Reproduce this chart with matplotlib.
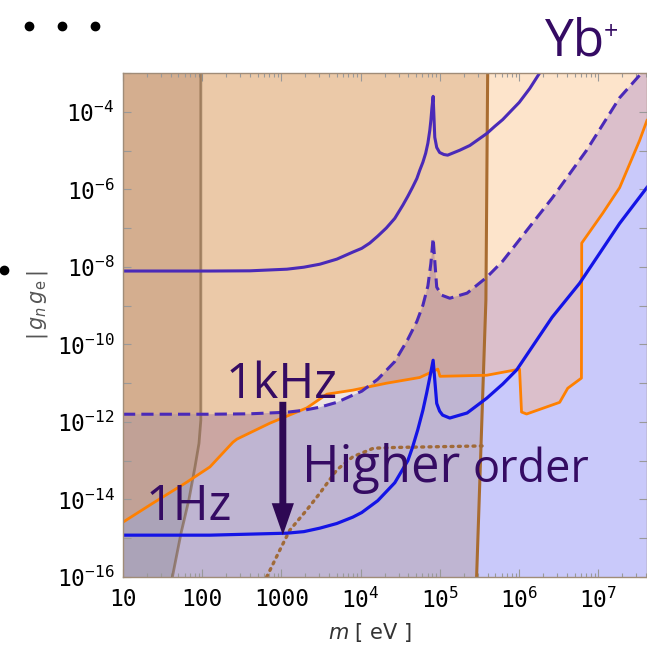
import numpy as np
import matplotlib.pyplot as plt
from matplotlib.patches import Polygon
from matplotlib.lines import Line2D
from matplotlib.ticker import LogLocator, NullFormatter

# mass m [eV] and coupling |g_n g_e| along each curve
m_top = [10, 125, 400, 1170, 1917, 3050, 4995, 7940, 1.03e4, 1.3e4, 1.64e4, 2.1e4, 2.69e4, 3.4e4,
         3.93e4, 4.5e4, 5.11e4, 5.56e4, 6.09e4, 6.6e4, 7.04e4, 7.44e4, 7.68e4, 7.91e4, 8.2e4,
         8.6e4, 9.1e4, 9.9e4, 1.12e5, 1.25e5, 1.78e5, 2.38e5, 3.9e5, 4.91e5, 6.2e5, 8.05e5,
         1.0e6, 1.36e6, 1.8e6]
g_top = [7.8e-9, 7.8e-9, 7.9e-9, 8.7e-9, 9.8e-9, 1.17e-8, 1.58e-8, 2.4e-8, 3.0e-8, 4.1e-8, 6.2e-8,
         1.0e-7, 1.78e-7, 3.9e-7, 6.6e-7, 1.12e-6, 1.9e-6, 3.1e-6, 5.0e-6, 8.5e-6, 1.55e-5, 3.3e-5,
         6.0e-5, 1.23e-4, 2.5e-4, 2.2e-5, 1.2e-5, 8.9e-6, 7.9e-6, 7.6e-6, 1.02e-5, 1.35e-5, 2.75e-5,
         4.2e-5, 6.3e-5, 1.1e-4, 1.74e-4, 4.0e-4, 9.8e-4]

m_khz = [10, 125, 400, 1170, 1917, 3050, 4995, 7940, 1.03e4, 1.64e4, 2.69e4, 3.93e4, 5.11e4,
         6.09e4, 7.04e4, 7.68e4, 8.2e4, 9.1e4, 1.05e5, 1.33e5, 2.2e5, 3.9e5, 6.2e5, 1.0e6, 2.6e6,
         7.1e6, 1.85e7, 3.3e7, 4.1e7]
g_khz = [1.58e-12, 1.58e-12, 1.62e-12, 1.78e-12, 2.0e-12, 2.4e-12, 3.2e-12, 4.9e-12, 6.2e-12,
         1.26e-11, 3.6e-11, 1.35e-10, 3.9e-10, 1.02e-9, 3.2e-9, 1.23e-8, 5.5e-8, 3.0e-9, 1.86e-9,
         1.55e-9, 2.1e-9, 5.4e-9, 1.41e-8, 4.9e-8, 5.9e-7, 1.02e-5, 2.3e-4, 8.7e-4, 1.4e-3]

m_hz = [10, 125, 1170, 1917, 3050, 4995, 7940, 1.03e4, 1.64e4, 2.69e4, 3.93e4, 4.5e4, 5.25e4,
        6.09e4, 6.8e4, 7.44e4, 8.2e4, 9.1e4, 9.9e4, 1.08e5, 1.33e5, 2.2e5, 3.9e5, 6.2e5, 9.3e5,
        2.6e6, 5.8e6, 1.85e7, 4.1e7]
g_hz = [1.2e-15, 1.2e-15, 1.35e-15, 1.48e-15, 1.82e-15, 2.4e-15, 3.5e-15, 4.6e-15, 9.3e-15,
        2.7e-14, 1.0e-13, 2.2e-13, 6.3e-13, 2.0e-12, 5.6e-12, 1.4e-11, 3.9e-11, 3.0e-12, 1.9e-12,
        1.5e-12, 1.26e-12, 1.7e-12, 4.1e-12, 9.5e-12, 2.2e-11, 5.0e-10, 3.8e-9, 1.32e-7, 1.12e-6]

m_orange = [10, 24, 64, 125, 244, 274, 715, 2090, 3740, 7950, 2.13e4, 5.56e4, 9.4e4, 1.0e5,
            3.9e5, 1.01e6, 1.07e6, 1.24e6, 3.24e6, 4.1e6, 6.1e6, 6.15e6, 1.13e7, 1.85e7, 3.3e7, 4.1e7]
g_orange = [2.6e-15, 8.1e-15, 2.8e-14, 6.9e-14, 3.0e-13, 3.6e-13, 9.3e-13, 2.3e-12, 5.2e-12, 6.6e-12, 1.0e-11,
            1.4e-11, 2.3e-11, 1.5e-11, 1.6e-11, 2.3e-11, 1.8e-12, 1.6e-12, 3.2e-12, 7.4e-12, 1.35e-11, 4.1e-8,
            2.4e-7, 1.1e-6, 1.8e-5, 6.0e-5]

m_higher = [650, 955, 1270, 2090, 3050, 5000, 7940, 1.45e4, 2.85e4, 3.4e5]
g_higher = [1e-16, 5.0e-16, 1.6e-15, 5.4e-15, 1.45e-14, 5.8e-14, 1.26e-13, 2.1e-13, 2.2e-13, 2.4e-13]

# boundaries of the two excluded bands on the left
m_edge_low = [42, 54, 68, 81, 91, 96, 96]
g_edge_low = [1e-16, 1.35e-15, 1e-14, 6.9e-14, 2.8e-13, 1.1e-12, 1e-3]
m_edge_high = [2.9e5, 3.8e5, 4.0e5]
g_edge_high = [1e-16, 1.4e-9, 1e-3]

x_ticks = [10, 100, 1000, 1e4, 1e5, 1e6, 1e7]
x_labels = ['10', '100', '1000', r'$\mathregular{10^{4}}$', r'$\mathregular{10^{5}}$',
            r'$\mathregular{10^{6}}$', r'$\mathregular{10^{7}}$']
y_ticks = [10.0 ** e for e in range(-16, -2)]
y_labels = [r'$\mathregular{10^{%d}}$' % e if e % 2 == 0 and e < -3 else '' for e in range(-16, -2)]

XMIN, XMAX = 10, 4.1e7
YMIN, YMAX = 1e-16, 1e-3
M_LO, M_HI = 1, 1e9
G_LO, G_HI = 1e-20, 1

TXT = '#350b63'

fig = plt.figure(figsize=(6.47, 6.5), dpi=100)
ax = fig.add_axes([123 / 647, 73 / 650, 524 / 647, 504 / 650])
ax.set_xscale('log')
ax.set_yscale('log')
ax.set_xlim(XMIN, XMAX)
ax.set_ylim(YMIN, YMAX)

# common grid for the overlap of "above orange" and "below 1kHz"
grid = np.unique(np.concatenate([m_orange, m_khz, np.geomspace(XMIN, XMAX, 3000)]))
lo = 10 ** np.interp(np.log10(grid), np.log10(m_orange), np.log10(g_orange))
hi = 10 ** np.interp(np.log10(grid), np.log10(m_khz), np.log10(g_khz))


def shade(c_under, c_above, c_both, base=None, clip=None):
    arts = []
    if base is not None:
        arts.append(ax.fill_between([M_LO, M_HI], G_LO, G_HI, color=base, lw=0, zorder=1))
    arts.append(ax.fill_between(m_khz, G_LO, g_khz, color=c_under, lw=0, zorder=1))
    arts.append(ax.fill_between(m_orange, g_orange, G_HI, color=c_above, lw=0, zorder=1))
    arts.append(ax.fill_between(grid, lo, hi, where=hi > lo, interpolate=True,
                                color=c_both, lw=0, zorder=1))
    if clip is not None:
        for a in arts:
            a.set_clip_path(clip)


band_high = Polygon([(M_LO, YMIN)] + list(zip(m_edge_high, g_edge_high)) + [(M_LO, YMAX)],
                    closed=True, transform=ax.transData)
band_low = Polygon([(M_LO, YMIN)] + list(zip(m_edge_low, g_edge_low)) + [(M_LO, YMAX)],
                   closed=True, transform=ax.transData)

shade('#c9c9fa', '#fde4cb', '#dbbfcb')
shade('#bfb5d2', '#ebc9a8', '#cba6a2', base='#efe6e2', clip=band_high)
shade('#aba3b8', '#d4ae8f', '#c1a196', clip=band_low)

ax.plot(m_edge_low, g_edge_low, color='#7a5a3a', alpha=0.6, lw=2, zorder=3)
ax.plot(m_edge_high, g_edge_high, color='#a96c30', lw=2.2, zorder=3)
ax.plot(m_higher, g_higher, color='#a06a38', lw=2.4, ls=(0, (0.6, 1.6)),
        dash_capstyle='round', zorder=3)
ax.plot(m_orange, g_orange, color='#ff8000', lw=2, zorder=4)
ax.plot(m_top, g_top, color='#4a2ab8', lw=2.2, zorder=4)
ax.plot(m_khz, g_khz, color='#4a2ab8', lw=2.2, ls=(0, (4, 2)), zorder=4)
ax.plot(m_hz, g_hz, color='#1414e6', lw=2.3, zorder=4)

ax.annotate('', xy=(1040, 1.2e-15), xytext=(1040, 3.3e-12),
            arrowprops=dict(width=5, headwidth=16, headlength=23, shrink=0,
                            color='#2e0854', lw=0), zorder=5)

tfont = 'Open Sans'
ax.text(200, 4.1e-12, '1kHz', fontsize=35, family=tfont, color=TXT, va='baseline', zorder=6)
ax.text(1800, 2.8e-14, 'Higher', fontsize=36.5, family=tfont, color=TXT, va='baseline', zorder=6)
ax.text(2.6e5, 2.8e-14, 'order', fontsize=32.5, family=tfont, color=TXT, va='baseline', zorder=6)
ax.text(19.5, 2.95e-15, '1Hz', fontsize=35, family=tfont, color=TXT, va='baseline', zorder=6)

# axes, ticks, labels
ax.set_xticks(x_ticks)
ax.set_xticklabels(x_labels)
ax.xaxis.set_minor_locator(LogLocator(base=10, subs=np.arange(2, 10), numticks=20))
ax.xaxis.set_minor_formatter(NullFormatter())
ax.set_yticks(y_ticks)
ax.set_yticklabels(y_labels)
ax.yaxis.set_minor_locator(LogLocator(base=10, subs=[], numticks=20))
ax.tick_params(which='both', direction='in', top=True, right=True, color='#999999', width=0.8)
ax.tick_params(which='major', length=6)
ax.tick_params(which='minor', length=3)
ax.tick_params(axis='x', pad=8)
ax.tick_params(axis='y', pad=6)
for lab in ax.get_xticklabels() + ax.get_yticklabels():
    lab.set_family('DejaVu Sans Mono')
    lab.set_fontsize(16.5)
for sp in ax.spines.values():
    sp.set_color('#a08c78')
    sp.set_linewidth(1)
    sp.set_zorder(7)

fig.text(37 / 647, 1 - 305 / 650, r'$|\,g_n\,g_\mathrm{e}\,|$', rotation=90, fontsize=15,
         color='#555555', ha='center', va='center')
fig.text(370 / 647, 1 - 632 / 650, r'$m$ [ eV ]', fontsize=15, color='#333333',
         ha='center', va='center')

fig.text(545 / 647, 1 - 55 / 650, 'Yb', fontsize=37, family=tfont, color=TXT, va='baseline')
fig.text(604 / 647, 1 - 39 / 650, '+', fontsize=18, family=tfont, color=TXT, va='baseline')

for px, py in [(29, 26), (62, 26), (95, 26), (4, 270)]:
    fig.add_artist(Line2D([px / 647], [1 - py / 650], marker='o', ms=6, color='k',
                          transform=fig.transFigure))

fig.savefig('out.png', dpi=100)
